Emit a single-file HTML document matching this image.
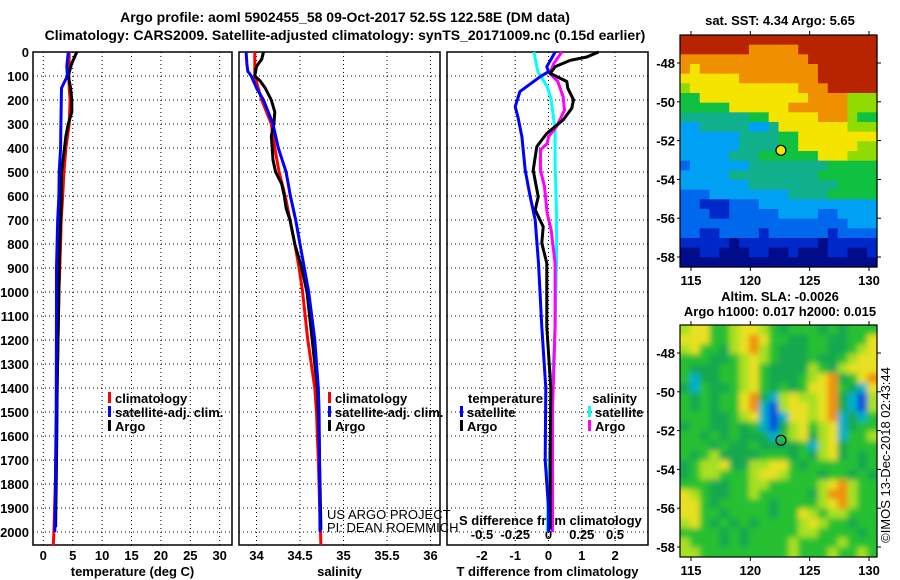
<!DOCTYPE html>
<html><head><meta charset="utf-8">
<style>
html,body{margin:0;padding:0;background:#fff;}
svg{display:block;font-family:"Liberation Sans",sans-serif;}
.b{font-weight:bold;font-size:13px;fill:#000;}
.t{font-weight:bold;font-size:14px;fill:#000;}
.th{font-size:13px;fill:#000;}
</style></head>
<body>
<svg id="c" width="900" height="580" viewBox="0 0 900 580" xmlns="http://www.w3.org/2000/svg">
<defs>
<clipPath id="clipSla"><rect x="680" y="325" width="197" height="232"/></clipPath>
<filter id="blur" x="-5%" y="-5%" width="110%" height="110%"><feGaussianBlur stdDeviation="3"/></filter>
</defs>
<text class="t" x="345" y="22" text-anchor="middle">Argo profile: aoml 5902455_58 09-Oct-2017 52.5S 122.58E (DM data)</text>
<text class="t" x="345" y="40" text-anchor="middle">Climatology: CARS2009. Satellite-adjusted climatology: synTS_20171009.nc (0.15d earlier)</text>
<g id="g"></g>
</svg>
<script>
// ---------- data ----------
const depthTicks=[0,100,200,300,400,500,600,700,800,900,1000,1100,1200,1300,1400,1500,1600,1700,1800,1900,2000];
const tempTicks=[0,5,10,15,20,25,30];
const salTicks=[34,34.5,35,35.5,36];
const tdiffTicks=[-2,-1,0,1,2];
const sdiffTicks=[-0.5,-0.25,0,0.25,0.5];
const lonTicks=[115,120,125,130];
const latTicks=[-48,-50,-52,-54,-56,-58];

const tArgoD=[0,50,100,150,200,250,300,350,400,500,600,700,800,900,1000,1200,1400,1600,1800,1980];
const tArgoV=[5.7,4.8,4.25,4.65,4.85,4.85,4.25,3.85,3.6,3.1,3.1,2.95,2.8,2.7,2.65,2.5,2.35,2.3,2.2,2.1];
const tClimD=[0,100,150,200,300,400,500,600,700,800,900,1000,1200,1500,1800,2000,2055];
const tClimV=[4.4,4.35,4.4,4.55,4.4,3.85,3.5,3.3,3.05,2.95,2.8,2.65,2.5,2.3,2.05,1.8,1.7];
const tSatD=[0,60,100,150,300,400,500,600,700,900,1100,1500,1800,2000];
const tSatV=[4.25,4.0,4.1,3.1,3.0,2.95,2.7,2.65,2.45,2.25,2.25,2.2,2.05,1.95];

const sArgoD=[0,30,60,100,120,150,200,250,300,350,400,450,500,550,600,650,700,800,900,1000,1200,1400,1600,1800,1990];
const sArgoV=[34.08,34.06,34.0,33.98,34.04,34.10,34.17,34.21,34.20,34.17,34.18,34.19,34.22,34.29,34.32,34.34,34.385,34.44,34.52,34.58,34.64,34.70,34.72,34.73,34.74];
const sClimD=[0,100,150,200,300,400,500,600,700,800,900,1000,1200,1400,1500,1700,2055];
const sClimV=[33.98,33.98,34.02,34.06,34.17,34.21,34.26,34.33,34.385,34.44,34.49,34.53,34.59,34.67,34.69,34.71,34.74];
const sSatD=[0,50,80,100,150,200,300,400,500,600,700,800,900,1000,1200,1400,1500,2000];
const sSatV=[33.88,33.89,33.90,33.94,34.0,34.08,34.19,34.25,34.34,34.39,34.45,34.50,34.55,34.60,34.67,34.71,34.72,34.73];

const dtSatD=[0,61,82,103,165,228,270,353,492,603,700,880,1145,1400,1700,1900,2000];
const dtSatV=[0.2,-0.05,0.0,-0.25,-0.86,-1.0,-0.92,-0.8,-0.7,-0.55,-0.4,-0.3,-0.2,-0.08,-0.1,0.0,0.0];
const dtArgoD=[0,21,35,61,89,123,151,199,234,283,339,394,492,603,658,728,797,880,1145,1400,1700,1990];
const dtArgoV=[1.5,1.15,0.65,0.2,0.05,0.55,0.58,0.75,0.7,0.44,-0.05,-0.35,-0.46,-0.31,-0.4,-0.16,-0.2,-0.05,-0.05,0.07,0.05,0.05];
const dsSatD=[0,82,144,199,325,464,672,880,1145,1500,1800,2000];
const dsSatV=[-0.11,-0.08,-0.01,0.02,0.05,0.05,0.06,0.06,0.05,0.02,0.0,-0.01];
const dsArgoD=[0,48,89,123,186,242,311,353,381,408,492,561,672,742,880,1145,1500,1750,2000];
const dsArgoV=[0.1,0.04,0.01,0.07,0.11,0.12,0.06,0.0,-0.01,-0.06,-0.06,-0.03,-0.01,0.02,0.05,0.05,0.03,0.03,0.03];

// SST map levels (0 coldest .. 9 warmest), rows north->south
const sstRows=[
"99999999999999999999",
"99999998888899999999",
"88888888888889999999",
"87888888888888999999",
"77777788888888999999",
"67777777777788899999",
"55777777777778888666",
"55555777777888888666",
"44444445577777888655",
"33444443347777777666",
"33333344445577777777",
"33333344445577777766",
"33333444555555777666",
"23333334444444455555",
"33333444444444555555",
"33333334444444445555",
"22233333333444455555",
"22111222333333333333",
"22211222223333223333",
"22222222222222222333",
"22112222122222212222",
"11111011111111011111",
"00110001100100011001",
"00000000000000000000"];
const sstColors=["#000c8a","#0028c8","#0068ec","#00a0f4","#10b08c","#10c040","#90dc00","#f4e400","#f09000","#b82400"];
// SLA map levels (0 low .. 6 high)
const slaRows=[
"45533455432333232333",
"55533456533223322335",
"45332456432223322345",
"33322345432223223455",
"32223345322224324555",
"31223345322234562356",
"21322345323235563215",
"32323356214544562104",
"32323356104554562104",
"33322345101554561213",
"23322323102453451233",
"33232322213452451334",
"33323223222231452333",
"32342222333232452323",
"23445224455323333323",
"23443334554333233232",
"33322334433333456433",
"54322334333332466433",
"55323333323333456433",
"55332333323354344333",
"45323232333345433233",
"33332323333344333323",
"43332323333433334333",
"44333333333433343343"];
const slaColors=["#0050e0","#00b0c8","#18a850","#28c030","#a8e020","#e8e020","#f09010"];

// ---------- drawing ----------
const NS="http://www.w3.org/2000/svg";
const G=document.getElementById('g');
function mk(tag,attrs,parent){const e=document.createElementNS(NS,tag);for(const k in attrs)e.setAttribute(k,attrs[k]);(parent||G).appendChild(e);return e;}
const TOP=52,BOT=545;
const yD=d=>TOP+d*0.24;
const P=[
 {x0:33,x1:232,sx:v=>43.3+v*5.88,ticks:tempTicks,name:'temperature-panel',lab:'temperature (deg C)'},
 {x0:239,x1:440,sx:v=>256.5+(v-34)*87,ticks:salTicks,name:'salinity-panel',lab:'salinity'},
 {x0:447,x1:648,sx:v=>548.5+v*33.3,ticks:tdiffTicks,name:'difference-panel',lab:'T difference from climatology'}];
const sdx=v=>548.5+v*133;

P.forEach((p,i)=>{
  const g=mk('g',{});
  
  
  depthTicks.forEach(d=>{if(d>0){const l=mk('line',{x1:p.x0,x2:p.x1,y1:yD(d),y2:yD(d),stroke:'#000','stroke-width':1,'stroke-dasharray':'1,3'},g);}});
  p.ticks.forEach(v=>{const x=p.sx(v);const l=mk('line',{x1:x,x2:x,y1:TOP,y2:BOT,stroke:'#000','stroke-width':1,'stroke-dasharray':'1,3'},g);
    const t=mk('text',{x:x,y:560,'text-anchor':'middle',class:'b'},g);t.textContent=v;});
  const f=mk('rect',{x:p.x0,y:TOP,width:p.x1-p.x0,height:BOT-TOP,fill:'none',stroke:'#000','stroke-width':1.5},g);
  
  const at=mk('text',{x:(p.x0+p.x1)/2,y:576,'text-anchor':'middle',class:'b'},g);at.textContent=p.lab;
  
});
depthTicks.forEach(d=>{const t=mk('text',{x:29,y:yD(d)+5,'text-anchor':'end',class:'b'});t.textContent=d;
  });
sdiffTicks.forEach(v=>{const t=mk('text',{x:sdx(v),y:539,'text-anchor':'middle',class:'b'});t.textContent=v;
  });
{const t=mk('text',{x:459,y:525,class:'b'});t.textContent='S difference from climatology';
 }

function line(D,V,sx,color,name,w){
  const pts=D.map((d,i)=>sx(V[i]).toFixed(1)+','+yD(d).toFixed(1)).join(' ');
  const l=mk('polyline',{points:pts,fill:'none',stroke:color,'stroke-width':w||3,'stroke-linejoin':'round'});
  
}
line(tClimD,tClimV,P[0].sx,'#ff0000','temp-climatology-line');
line(tArgoD,tArgoV,P[0].sx,'#000','temp-argo-line');
line(tSatD,tSatV,P[0].sx,'#0000ff','temp-satellite-line');
line(sClimD,sClimV,P[1].sx,'#ff0000','sal-climatology-line');
line(sArgoD,sArgoV,P[1].sx,'#000','sal-argo-line');
line(sSatD,sSatV,P[1].sx,'#0000ff','sal-satellite-line');
line(dsSatD,dsSatV,sdx,'#00ffff','sdiff-satellite-line');
line(dsArgoD,dsArgoV,sdx,'#ff00ff','sdiff-argo-line');
line(dtArgoD,dtArgoV,P[2].sx,'#000','tdiff-argo-line');
line(dtSatD,dtSatV,P[2].sx,'#0000ff','tdiff-satellite-line');

function leg(x,y,color,label,name){
  const r=mk('rect',{x:x,y:y-11,width:3,height:11,fill:color});
  
  const t=mk('text',{x:x+7,y:y,class:'b'});t.textContent=label;
  
}
leg(108,403,'#ff0000','climatology','legend-climatology');
leg(108,417,'#0000ff','satellite-adj. clim.','legend-satellite-adj');
leg(108,431,'#000','Argo','legend-argo');
leg(328,403,'#ff0000','climatology','legend-sal-climatology');
leg(328,417,'#0000ff','satellite-adj. clim.','legend-sal-satellite-adj');
leg(328,431,'#000','Argo','legend-sal-argo');
{const t=mk('text',{x:468,y:403,class:'b'});t.textContent='temperature';}
leg(460,417,'#0000ff','satellite','legend-tdiff-satellite');
leg(460,431,'#000','Argo','legend-tdiff-argo');
{const t=mk('text',{x:637,y:403,'text-anchor':'end',class:'b'});t.textContent='salinity';}
leg(588,417,'#00ffff','satellite','legend-sdiff-satellite');
leg(588,431,'#ff00ff','Argo','legend-sdiff-argo');
{const t=mk('text',{x:327,y:519,class:'th'});t.textContent='US ARGO PROJECT';}
{const t=mk('text',{x:327,y:532,class:'th'});t.textContent='PI: DEAN ROEMMICH';}

// maps
const MX0=680,MX1=877;
function map(rows,colors,y0,y1,name,blur){
  const g=mk('g',blur?{'clip-path':'url(#clipSla)'}:{});
  
  const inner=mk('g',blur?{filter:'url(#blur)'}:{},g);
  const nr=rows.length,nc=rows[0].length,cw=(MX1-MX0)/nc,ch=(y1-y0)/nr;
  const pad=blur?6:0;
  rows.forEach((r,ri)=>{for(let ci=0;ci<nc;ci++){
    const x=MX0+ci*cw-(ci==0?pad:0), y=y0+ri*ch-(ri==0?pad:0);
    const w=cw+0.6+(ci==0||ci==nc-1?pad:0), h=ch+0.6+(ri==0||ri==nr-1?pad:0);
    const c=mk('rect',{x:x.toFixed(2),y:y.toFixed(2),width:w.toFixed(2),height:h.toFixed(2),fill:colors[+r[ci]]},inner);
    }});
  const lonX=v=>691+(v-115)*(869-691)/15;
  const latY=v=>y0+28+(-48-v)*(194/10);
  lonTicks.forEach(v=>{const x=lonX(v);mk('line',{x1:x,x2:x,y1:y0,y2:y0-4,stroke:'#000'});mk('line',{x1:x,x2:x,y1:y1,y2:y1+4,stroke:'#000'});
    const t=mk('text',{x:x,y:y1+18,'text-anchor':'middle',class:'b'});t.textContent=v;});
  latTicks.forEach(v=>{const y=latY(v);mk('line',{x1:MX1,x2:MX1+4,y1:y,y2:y,stroke:'#000'});mk('line',{x1:MX0,x2:MX0-3,y1:y,y2:y,stroke:'#000'});
    const t=mk('text',{x:675,y:y+5,'text-anchor':'end',class:'b'});t.textContent=v;});
  const f=mk('rect',{x:MX0,y:y0,width:MX1-MX0,height:y1-y0,fill:'none',stroke:'#000','stroke-width':1.2});
  
  const cir=mk('circle',{cx:lonX(122.58),cy:latY(-52.5),r:5,fill:blur?'none':'#f4e400',stroke:'#000','stroke-width':1.2});
  
}
map(sstRows,sstColors,35,267,'sst-map',false);
map(slaRows,slaColors,325,557,'sla-map',true);
{const t=mk('text',{x:780,y:25,'text-anchor':'middle',class:'b'});t.textContent='sat. SST: 4.34 Argo: 5.65';}
{const t=mk('text',{x:780,y:301,'text-anchor':'middle',class:'b'});t.textContent='Altim. SLA: -0.0026';}
{const t=mk('text',{x:780,y:316,'text-anchor':'middle',class:'b'});t.textContent='Argo h1000: 0.017 h2000: 0.015';}
{const t=mk('text',{x:0,y:0,class:'th','text-anchor':'middle',transform:'translate(890,455) rotate(-90)'});t.textContent='©IMOS 13-Dec-2018 02:43:44';}
</script>
</body></html>
